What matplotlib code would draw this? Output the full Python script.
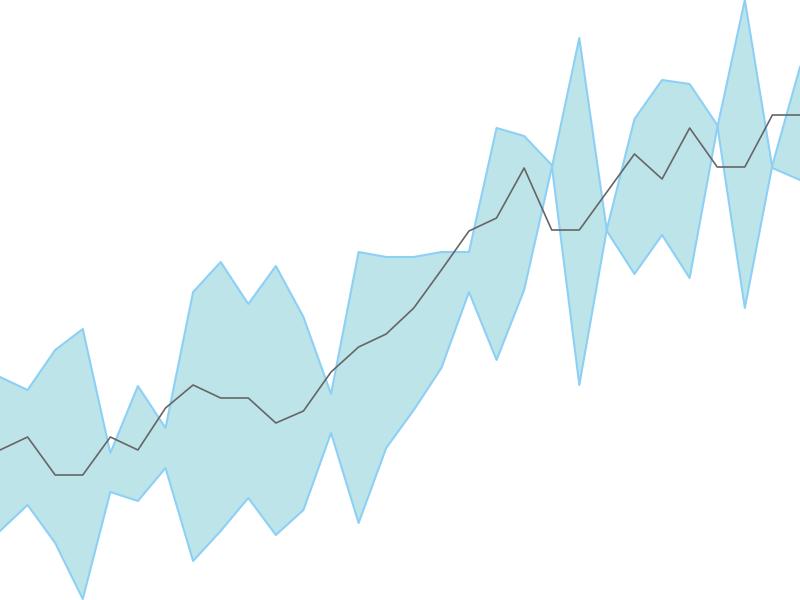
import matplotlib
matplotlib.use("Agg")
import matplotlib.pyplot as plt
import numpy as np

# band edges and the middle line, one value per step
steps = np.arange(30)
edge_a = [223, 210, 250, 271, 147, 214, 172, 308, 338, 296,
          334, 283, 206, 348, 343, 343, 348, 348, 472, 464,
          435, 215, 371, 481, 520, 516, 475, 292, 435, 533]
edge_b = [69, 95, 57, 1, 108, 99, 132, 39, 69, 102,
          65, 90, 167, 77, 152, 190, 232, 308, 240, 310,
          432, 562, 369, 326, 365, 322, 472, 600, 432, 420]
middle = [150, 163, 125, 125, 163, 150, 192, 215, 202, 202,
          177, 189, 228, 253, 266, 292, 330, 369, 382, 432,
          370, 370, 408, 446, 421, 472, 433, 433, 485, 485]

fig = plt.figure(figsize=(8, 6), dpi=100)
ax = fig.add_axes([0, 0, 1, 1])

ax.fill_between(steps, edge_a, edge_b, color='#bde4e9', linewidth=0)
ax.plot(steps, edge_a, color='#8dd0f5', linewidth=1.5)
ax.plot(steps, edge_b, color='#8dd0f5', linewidth=1.5)
ax.plot(steps, middle, color='#666666', linewidth=1.2)

ax.set_xlim(0, 29)
ax.set_ylim(0, 600)
ax.axis('off')

fig.savefig('out.png', dpi=100)
